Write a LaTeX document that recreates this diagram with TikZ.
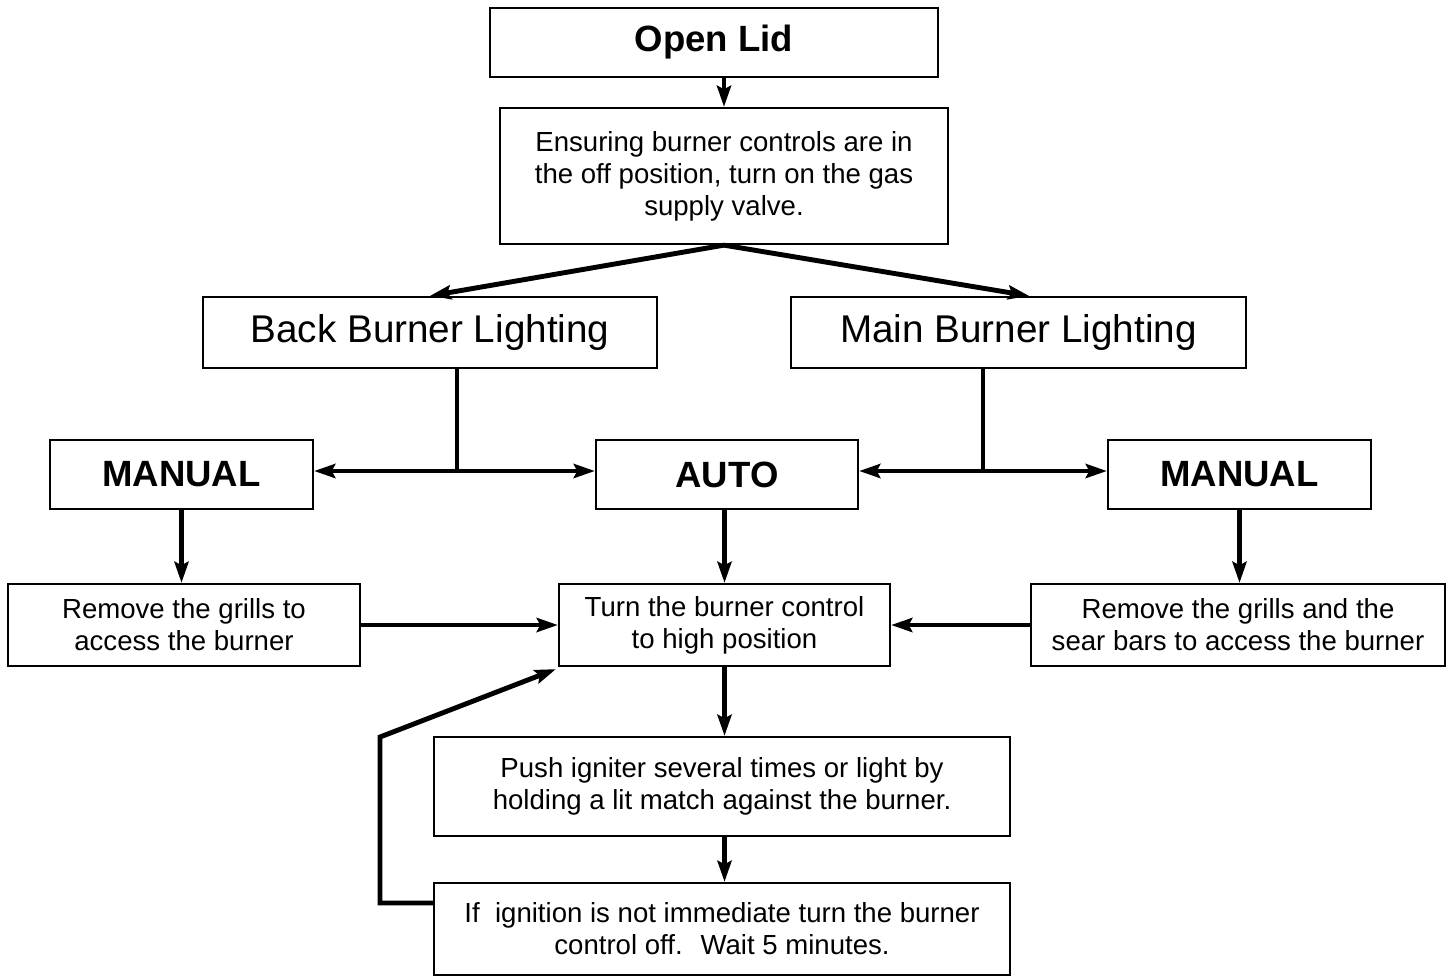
\documentclass[tikz,border=0pt]{standalone}
\usepackage{fontspec}
\setmainfont{Liberation Sans}
\usetikzlibrary{arrows.meta}
\tikzset{
  box/.style={draw, line width=1.3pt, rectangle, align=center, inner sep=2pt},
  bigtxt/.style={font=\fontsize{22}{26}\selectfont},
  boldtxt/.style={font=\fontsize{20.8}{24}\selectfont\bfseries},
  smalltxt/.style={font=\fontsize{15.7}{18.2}\selectfont},
  conn/.style={line width=2.8pt},
  arr/.style={line width=2.8pt, -{Stealth[length=12pt,width=8pt,inset=2pt]}},
}
\begin{document}
\begin{tikzpicture}[x=0.02cm,y=-0.02cm]
\useasboundingbox (0,0) rectangle (1449,978);
% nodes
\node[box,boldtxt,minimum width=8.96cm,minimum height=1.38cm] (open) at (714,42.5) {Open Lid};
\node[box,smalltxt,minimum width=8.96cm,minimum height=2.72cm] (ensure) at (724,176) {Ensuring burner controls are in\\the off position, turn on the gas\\supply valve.};
\node[box,bigtxt,minimum width=9.08cm,minimum height=1.42cm] (back) at (430,332.5) {Back Burner Lighting};
\node[box,bigtxt,minimum width=9.1cm,minimum height=1.42cm] (main) at (1018.5,332.5) {Main Burner Lighting};
\node[box,boldtxt,minimum width=5.26cm,minimum height=1.38cm] (manL) at (181.5,474.5) {MANUAL};
\node[box,boldtxt,minimum width=5.24cm,minimum height=1.38cm] (auto) at (727,474.5) {AUTO};
\node[box,boldtxt,minimum width=5.26cm,minimum height=1.38cm] (manR) at (1239.5,474.5) {MANUAL};
\node[box,smalltxt,minimum width=7.04cm,minimum height=1.64cm] (remL) at (184,625) {Remove the grills to\\access the burner};
\node[box,smalltxt,minimum width=6.62cm,minimum height=1.64cm] (turn) at (724.5,625) {Turn the burner control\\to high position};
\node[box,smalltxt,minimum width=8.28cm,minimum height=1.64cm] (remR) at (1238,625) {Remove the grills and the\\sear bars to access the burner};
\node[box,smalltxt,minimum width=11.52cm,minimum height=1.98cm] (push) at (722,786.5) {Push igniter several times or light by\\holding a lit match against the burner.};
\node[box,smalltxt,minimum width=11.52cm,minimum height=1.84cm] (ifb) at (722,929) {If~ ignition is not immediate turn the burner\\control off.~ Wait 5 minutes.};
% junction coordinates
\coordinate (bj) at (457,471);
\coordinate (mj) at (983,471);
\coordinate (fb1) at (380,903);
\coordinate (fb2) at (380,737);
% connectors
\draw[arr] (ensure.north |- open.south) -- (ensure.north);
\draw[arr] (ensure.south) -- (back.north);
\draw[arr] (ensure.south) -- ([xshift=6]main.north);
\draw[conn] (bj |- back.south) -- (bj);
\draw[arr] (bj) -- (manL.east |- bj);
\draw[arr] (bj) -- (auto.west |- bj);
\draw[conn] (mj |- main.south) -- (mj);
\draw[arr] (mj) -- (auto.east |- mj);
\draw[arr] (mj) -- (manR.west |- mj);
\draw[arr] (manL.south) -- (manL.south |- remL.north);
\draw[arr] (turn.north |- auto.south) -- (turn.north);
\draw[arr] (manR.south) -- (manR.south |- remR.north);
\draw[arr] (remL.east) -- (turn.west);
\draw[arr] (remR.west) -- (turn.east);
\draw[arr] (turn.south) -- (turn.south |- push.north);
\draw[arr] (turn.south |- push.south) -- (turn.south |- ifb.north);
\draw[arr,line join=miter] (ifb.west |- fb1) -- (fb1) -- (fb2) -- ([shift={(-2,2)}]turn.south west);
\end{tikzpicture}
\end{document}
